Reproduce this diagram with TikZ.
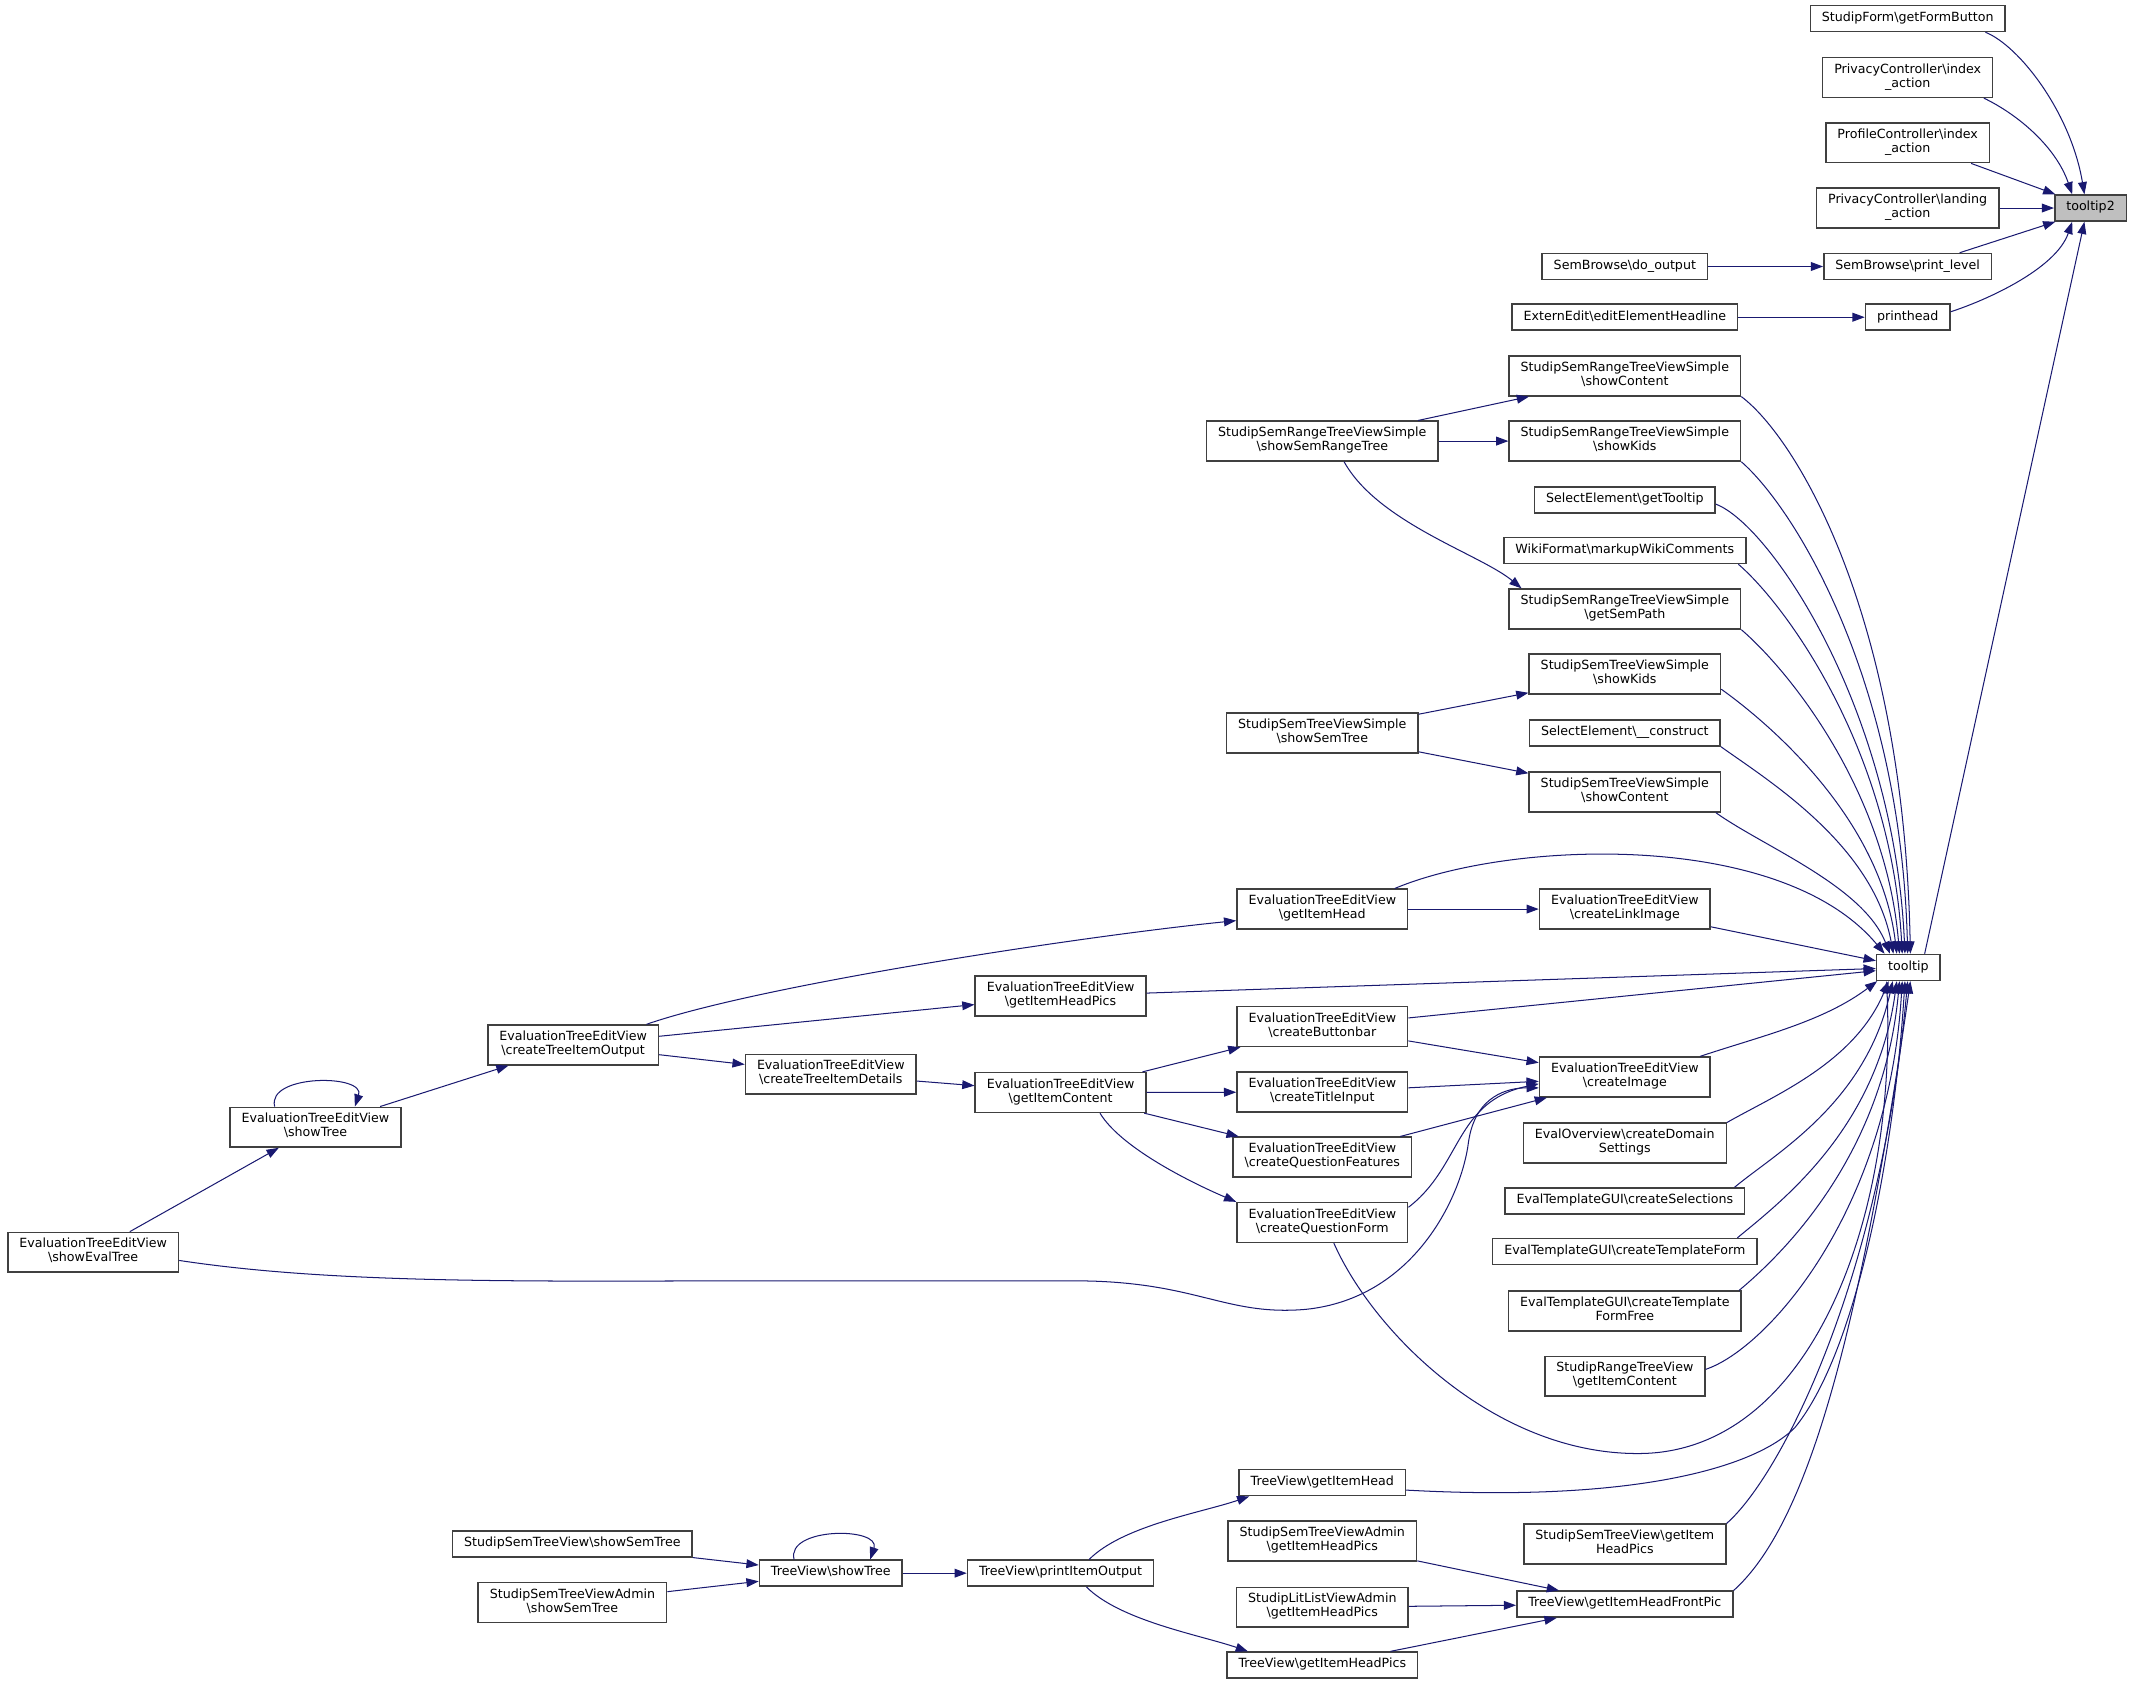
\documentclass[tikz,border=0pt]{standalone}
\usepackage{fontspec}
\setmainfont{DejaVu Sans}
\usetikzlibrary{arrows.meta}
\definecolor{edgeblue}{HTML}{191970}
\definecolor{boxline}{HTML}{404040}
\definecolor{selfill}{HTML}{BFBFBF}
\newcommand{\bsl}{\textbackslash}

\begin{document}
\begin{tikzpicture}[x=1pt,y=-1pt,
    fn/.style={draw=boxline, fill=white, line width=1.1pt, inner xsep=8.5pt, inner ysep=4.4pt,
        minimum height=19pt, align=center, font=\fontsize{9.3}{10.3}\selectfont,
        execute at begin node=\strut, execute at end node=\strut},
    call/.style={draw=edgeblue, line width=0.75pt, -{Triangle[length=9pt,width=6.5pt]}}]
        \useasboundingbox (0,0) rectangle (1568,1238.6);

        % callers of tooltip2
        \node[fn, fill=selfill] (tooltipTwo) at (1537.5,153) {tooltip2};
        \node[fn] (formButton) at (1403,13.6) {StudipForm\bsl getFormButton};
        \node[fn] (privIndex) at (1403,57) {PrivacyController\bsl index\\\_action};
        \node[fn] (profIndex) at (1403,105) {ProfileController\bsl index\\\_action};
        \node[fn] (privLanding) at (1403,153) {PrivacyController\bsl landing\\\_action};
        \node[fn] (printLevel) at (1403,196) {SemBrowse\bsl print\_level};
        \node[fn] (printHead) at (1403,233.3) {printhead};
        \node[fn] (doOutput) at (1195,196) {SemBrowse\bsl do\_output};
        \node[fn] (editHeadline) at (1195,233.3) {ExternEdit\bsl editElementHeadline};

        % callers of tooltip
        \node[fn] (tooltip) at (1403.5,711.5) {tooltip};
        \node[fn] (ssrContent) at (1195,276.5) {StudipSemRangeTreeViewSimple\\\bsl showContent};
        \node[fn] (ssrKids) at (1195,324.4) {StudipSemRangeTreeViewSimple\\\bsl showKids};
        \node[fn] (getTooltip) at (1195,367.8) {SelectElement\bsl getTooltip};
        \node[fn] (wikiComments) at (1195,404.9) {WikiFormat\bsl markupWikiComments};
        \node[fn] (ssrSemPath) at (1195,447.9) {StudipSemRangeTreeViewSimple\\\bsl getSemPath};
        \node[fn] (sstKids) at (1195,495.7) {StudipSemTreeViewSimple\\\bsl showKids};
        \node[fn] (selConstruct) at (1195,539.1) {SelectElement\bsl\_\_construct};
        \node[fn] (sstContent) at (1195,582.5) {StudipSemTreeViewSimple\\\bsl showContent};
        \node[fn] (linkImage) at (1195,668.6) {EvaluationTreeEditView\\\bsl createLinkImage};
        \node[fn] (createImage) at (1195,792.1) {EvaluationTreeEditView\\\bsl createImage};
        \node[fn] (domainSettings) at (1195,840.7) {EvalOverview\bsl createDomain\\Settings};
        \node[fn] (createSelections) at (1195,883.3) {EvalTemplateGUI\bsl createSelections};
        \node[fn] (templateForm) at (1195,920.5) {EvalTemplateGUI\bsl createTemplateForm};
        \node[fn] (templateFree) at (1195,964.2) {EvalTemplateGUI\bsl createTemplate\\FormFree};
        \node[fn] (rangeContent) at (1195,1012.1) {StudipRangeTreeView\\\bsl getItemContent};
        \node[fn] (semHeadPics) at (1195,1135.6) {StudipSemTreeView\bsl getItem\\HeadPics};
        \node[fn] (frontPic) at (1195,1179.8) {TreeView\bsl getItemHeadFrontPic};

        \node[fn] (ssrSemRangeTree) at (972.5,324.4) {StudipSemRangeTreeViewSimple\\\bsl showSemRangeTree};
        \node[fn] (sstSemTree) at (972.5,539.1) {StudipSemTreeViewSimple\\\bsl showSemTree};
        \node[fn] (itemHead) at (972.5,668.6) {EvaluationTreeEditView\\\bsl getItemHead};
        \node[fn] (buttonbar) at (972.5,755) {EvaluationTreeEditView\\\bsl createButtonbar};
        \node[fn] (titleInput) at (972.5,803.2) {EvaluationTreeEditView\\\bsl createTitleInput};
        \node[fn] (questionFeatures) at (972.5,851) {EvaluationTreeEditView\\\bsl createQuestionFeatures};
        \node[fn] (questionForm) at (972.5,899.1) {EvaluationTreeEditView\\\bsl createQuestionForm};
        \node[fn] (tvItemHead) at (972.5,1090.4) {TreeView\bsl getItemHead};
        \node[fn] (adminHeadPics) at (972.5,1133.4) {StudipSemTreeViewAdmin\\\bsl getItemHeadPics};
        \node[fn] (litHeadPics) at (972.5,1182) {StudipLitListViewAdmin\\\bsl getItemHeadPics};
        \node[fn] (tvHeadPics) at (972.5,1224.6) {TreeView\bsl getItemHeadPics};

        \node[fn] (itemHeadPics) at (780,732.5) {EvaluationTreeEditView\\\bsl getItemHeadPics};
        \node[fn] (itemContent) at (780,803.5) {EvaluationTreeEditView\\\bsl getItemContent};
        \node[fn] (itemDetails) at (611,790) {EvaluationTreeEditView\\\bsl createTreeItemDetails};
        \node[fn] (itemOutput) at (421.5,768.5) {EvaluationTreeEditView\\\bsl createTreeItemOutput};
        \node[fn] (evalShowTree) at (232,829) {EvaluationTreeEditView\\\bsl showTree};
        \node[fn] (showEvalTree) at (68.5,921) {EvaluationTreeEditView\\\bsl showEvalTree};
        \node[fn] (semShowSemTree) at (421,1135.5) {StudipSemTreeView\bsl showSemTree};
        \node[fn] (adminShowSemTree) at (421,1178.5) {StudipSemTreeViewAdmin\\\bsl showSemTree};
        \node[fn] (tvShowTree) at (611,1157) {TreeView\bsl showTree};
        \node[fn] (printOutput) at (780,1157) {TreeView\bsl printItemOutput};

        % edges to tooltip2
        \draw[call] ([xshift=-15pt]formButton.south east) .. controls +(25,10) and +(-10,-60) .. ([xshift=-4.5pt]tooltipTwo.north);
        \draw[call] ([xshift=-7pt]privIndex.south east) .. controls +(25,12) and +(-12,-35) .. ([xshift=-13.5pt]tooltipTwo.north);
        \draw[call] ([xshift=-14pt]profIndex.south east) -- ([xshift=1pt]tooltipTwo.north west);
        \draw[call] (privLanding) -- (tooltipTwo);
        \draw[call] ([xshift=-24pt]printLevel.north east) -- ([xshift=1pt]tooltipTwo.south west);
        \draw[call] ([yshift=4pt]printHead.east) .. controls +(25,-8) and +(-12,35) .. ([xshift=-13.5pt]tooltipTwo.south);
        \draw[call] ([xshift=12pt]tooltip.north) -- ([xshift=-4.5pt]tooltipTwo.south);
        \draw[call] (doOutput) -- (printLevel);
        \draw[call] (editHeadline) -- (printHead);

        % edges to tooltip, from above
        \draw[call] (ssrContent.south east) .. controls +(40,30) and +(-5,-250) .. ([xshift=1.5pt]tooltip.north);
        \draw[call] (ssrKids.south east) .. controls +(40,35) and +(-5,-200) .. ([xshift=-0.5pt]tooltip.north);
        \draw[call] ([yshift=-3pt]getTooltip.east) .. controls +(40,15) and +(-8,-180) .. ([xshift=-2.5pt]tooltip.north);
        \draw[call] ([xshift=-6pt]wikiComments.south east) .. controls +(35,30) and +(-8,-150) .. ([xshift=-4.5pt]tooltip.north);
        \draw[call] (ssrSemPath.south east) .. controls +(35,30) and +(-10,-120) .. ([xshift=-6.5pt]tooltip.north);
        \draw[call] ([yshift=4pt]sstKids.south east) .. controls +(35,25) and +(-12,-100) .. ([xshift=-8.5pt]tooltip.north);
        \draw[call] (selConstruct.south east) .. controls +(35,25) and +(-15,-80) .. ([xshift=-11pt]tooltip.north);
        \draw[call] ([xshift=-4pt]sstContent.south east) .. controls +(35,25) and +(-20,-50) .. ([xshift=-13.5pt]tooltip.north);
        \draw[call] ([xshift=-10pt]itemHead.north east) .. controls (1110,618) and (1310,610) .. ([xshift=-17.5pt]tooltip.north);

        % from the left
        \draw[call] (linkImage) -- (tooltip);
        \draw[call] (itemHeadPics) -- (tooltip);
        \draw[call] (buttonbar) -- (tooltip);
        \draw[call] ([xshift=-8pt]createImage.north east) .. controls +(45,-15) and +(-40,30) .. ([xshift=1pt]tooltip.south west);

        % from below
        \draw[call] (domainSettings.north east) .. controls +(35,-20) and +(-25,60) .. ([xshift=-14.5pt]tooltip.south);
        \draw[call] ([xshift=-8pt]createSelections.north east) .. controls +(30,-25) and +(-20,90) .. ([xshift=-11.5pt]tooltip.south);
        \draw[call] ([xshift=-15pt]templateForm.north east) .. controls +(30,-25) and +(-15,110) .. ([xshift=-8.5pt]tooltip.south);
        \draw[call] ([xshift=-2pt]templateFree.north east) .. controls +(30,-25) and +(-12,130) .. ([xshift=-6.5pt]tooltip.south);
        \draw[call] ([yshift=5pt]rangeContent.east) .. controls +(45,-15) and +(-10,170) .. ([xshift=-4.5pt]tooltip.south);
        \draw[call] ([yshift=-5.5pt]tvItemHead.east) .. controls (1200,1105) and (1290,1080) .. (1320,1050)
            .. controls (1365,995) and (1393,850) .. ([xshift=-2.5pt]tooltip.south);
        \draw[call] ([xshift=8.5pt]questionForm.south) .. controls (1010,980) and (1100,1070) .. (1206,1069)
            .. controls (1330,1068) and (1395,900) .. ([xshift=-16pt]tooltip.south);
        \draw[call] (semHeadPics.north east) .. controls +(40,-35) and +(-20,220) .. ([xshift=-0.5pt]tooltip.south);
        \draw[call] (frontPic.north east) .. controls +(50,-45) and +(-40,280) .. ([xshift=1.5pt]tooltip.south);

        % semrange and sem tree
        \draw[call] (ssrSemRangeTree) -- (ssrContent);
        \draw[call] (ssrSemRangeTree) -- (ssrKids);
        \draw[call] ([xshift=16pt]ssrSemRangeTree.south) .. controls +(25,45) and +(-30,-25) .. ([xshift=-76pt]ssrSemPath.north);
        \draw[call] (sstSemTree) -- (sstKids);
        \draw[call] (sstSemTree) -- (sstContent);

        % evaluation tree
        \draw[call] (itemHead) -- (linkImage);
        \draw[call] ([xshift=54pt]itemOutput.north) .. controls (560,724) and (800,688) .. ([yshift=-8.5pt]itemHead.west);
        \draw[call] (itemOutput) -- (itemHeadPics);
        \draw[call] (itemOutput) -- (itemDetails);
        \draw[call] (itemDetails) -- (itemContent);
        \draw[call] (itemContent) -- (buttonbar);
        \draw[call] (itemContent) -- (titleInput);
        \draw[call] (itemContent) -- (questionFeatures);
        \draw[call] ([xshift=29pt]itemContent.south) .. controls +(15,25) and +(-35,-15) .. (questionForm.north west);
        \draw[call] (buttonbar) -- (createImage);
        \draw[call] (titleInput) -- (createImage);
        \draw[call] (questionFeatures) -- (createImage);
        \draw[call] ([yshift=-4pt]questionForm.north east) .. controls (1075,858) and (1070,810) .. ([yshift=-5pt]createImage.west);
        \draw[call] ([yshift=-6pt]showEvalTree.east) .. controls (250,945) and (400,942) .. (560,942) -- (790,942)
            .. controls (880,942) and (900,968) .. (960,963) .. controls (1040,955) and (1075,880) .. (1080,840)
            .. controls (1085,805) and (1110,800) .. ([yshift=-8pt]createImage.west);
        \draw[call] (evalShowTree) -- (itemOutput);
        \draw[call] (showEvalTree) -- (evalShowTree);
        \draw[call] ([xshift=-30pt]evalShowTree.north) .. controls +(-6,-24) and +(8,-24) .. ([xshift=29pt]evalShowTree.north);

        % tree view
        \draw[call] (semShowSemTree) -- (tvShowTree);
        \draw[call] (adminShowSemTree) -- (tvShowTree);
        \draw[call] ([xshift=-27pt]tvShowTree.north) .. controls +(-6,-24) and +(8,-24) .. ([xshift=29pt]tvShowTree.north);
        \draw[call] (tvShowTree) -- (printOutput);
        \draw[call] ([xshift=21pt]printOutput.north) .. controls +(25,-25) and +(-35,12) .. ([xshift=8pt]tvItemHead.south west);
        \draw[call] ([xshift=19pt]printOutput.south) .. controls +(25,25) and +(-35,-12) .. ([xshift=16pt]tvHeadPics.north west);
        \draw[call] (adminHeadPics) -- (frontPic);
        \draw[call] (litHeadPics) -- (frontPic);
        \draw[call] (tvHeadPics) -- (frontPic);

    \end{tikzpicture}
\end{document}
